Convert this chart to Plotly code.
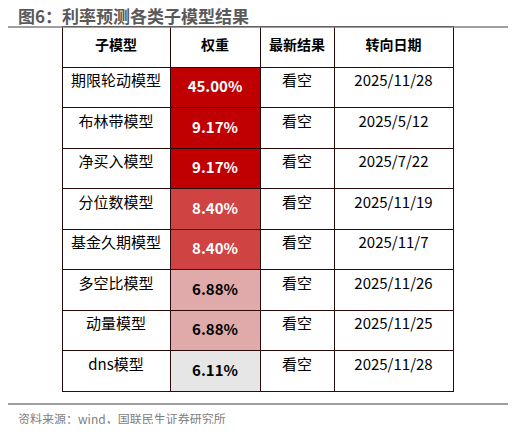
import plotly.graph_objects as go

# the page has an 8px body margin, so draw a slightly smaller figure
OFF = 8
W, H = 516 - 2 * OFF, 432 - 2 * OFF

headers = ["子模型", "权重", "最新结果", "转向日期"]
models = ["期限轮动模型", "布林带模型", "净买入模型", "分位数模型", "基金久期模型",
          "多空比模型", "动量模型", "dns模型"]
weights = ["45.00%", "9.17%", "9.17%", "8.40%", "8.40%", "6.88%", "6.88%", "6.11%"]
results = ["看空"] * 8
dates = ["2025/11/28", "2025/5/12", "2025/7/22", "2025/11/19", "2025/11/7",
         "2025/11/26", "2025/11/25", "2025/11/28"]

weight_fill = ["#c00000", "#c00000", "#c00000", "#d04343", "#d04343",
               "#e0aaab", "#e0aaab", "#e6e6e6"]
weight_font = ["white"] * 5 + ["black"] * 3

FONT = "Noto Sans CJK SC"
white = ["white"] * len(models)


def px(x):
    return (x - OFF) / W


def py(y):
    return 1 - (y - OFF) / H


fig = go.Figure(go.Table(
    domain=dict(x=[px(62), px(453)], y=[py(393), py(26)]),
    columnwidth=[108, 90, 74, 119],
    header=dict(
        values=["<b>%s</b>" % h for h in headers],
        fill_color="white",
        line=dict(color="#2b0a0a", width=1),
        font=dict(family=FONT, size=14, color="black"),
        align="center", height=41,
    ),
    cells=dict(
        values=[models, ["<b>%s</b>" % w for w in weights], results, dates],
        fill_color=[white, weight_fill, white, white],
        line=dict(color="#2b0a0a", width=1),
        font=dict(family=FONT, size=15,
                  color=[["black"] * 8, weight_font, ["black"] * 8, ["black"] * 8]),
        align="center", height=40.5,
    ),
))

fig.update_layout(
    width=W, height=H, margin=dict(l=0, r=0, t=0, b=0),
    paper_bgcolor="white",
    annotations=[
        dict(text="<b>图6：利率预测各类子模型结果</b>", x=px(16), y=py(15),
             xref="paper", yref="paper", xanchor="left", yanchor="middle",
             showarrow=False, font=dict(family=FONT, size=17, color="#595959")),
        dict(text="资料来源：wind，国联民生证券研究所", x=px(16), y=py(418),
             xref="paper", yref="paper", xanchor="left", yanchor="middle",
             showarrow=False, font=dict(family=FONT, size=12, color="#7f7f7f")),
    ],
    shapes=[
        dict(type="line", xref="paper", yref="paper", x0=px(8), x1=px(508),
             y0=py(27), y1=py(27), line=dict(color="#7f7f7f", width=1.5)),
        dict(type="line", xref="paper", yref="paper", x0=px(8), x1=px(508),
             y0=py(404), y1=py(404), line=dict(color="#7f7f7f", width=1.5)),
    ],
)

fig.write_html("out.html")
